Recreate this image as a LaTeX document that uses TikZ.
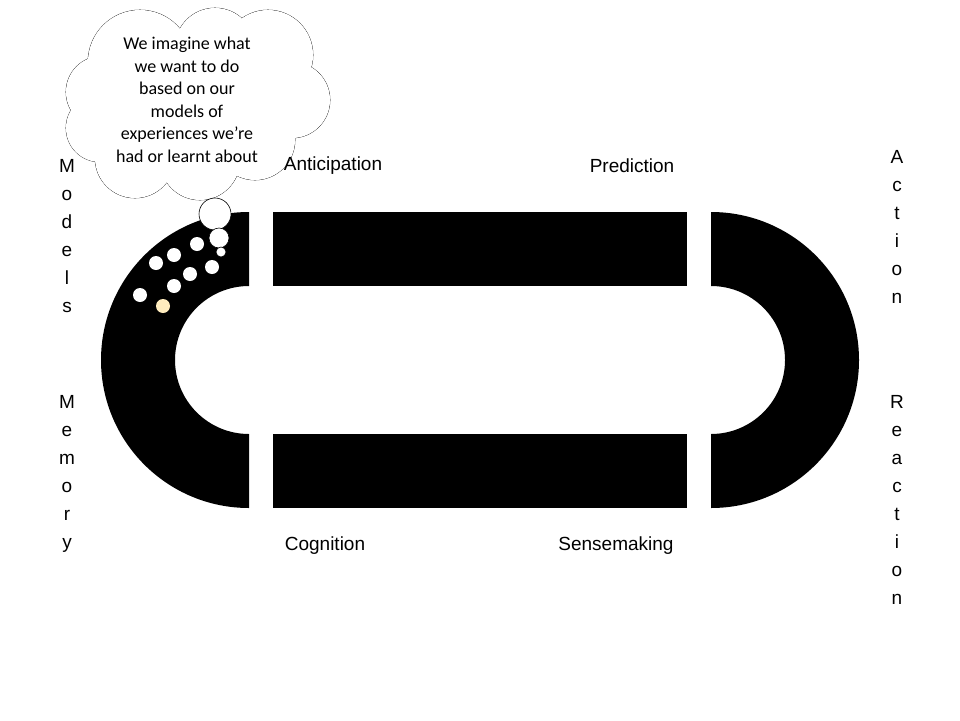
\documentclass[tikz,border=0pt]{standalone}
\usepackage{fontspec}
\setmainfont{Liberation Sans}
\newfontfamily\cloudfont{Carlito}
\begin{document}
\begin{tikzpicture}[x=1pt,y=-1pt,
  lbl/.style={font=\fontsize{19}{22}\selectfont},
  vlbl/.style={font=\fontsize{19}{28}\selectfont,align=center,anchor=north},
  bub/.style={draw=black,fill=white,line width=0.6pt}]
\useasboundingbox (0,0) rectangle (960,720);
% bars
\fill (249,212) arc[start angle=270,end angle=90,radius=148] -- (249,434) arc[start angle=90,end angle=270,radius=74] -- cycle;
\fill (711,212) arc[start angle=270,end angle=450,radius=148] -- (711,434) arc[start angle=90,end angle=-90,radius=74] -- cycle;
\fill (273,212) rectangle (687,286);
\fill (273,434) rectangle (687,508);
% dots
\foreach \p in {(156,263),(174,255),(197,244),(212,267),(190,274),(174,286),(140,295)}
  \fill[white] \p circle[radius=7];
\fill[fill={rgb,255:red,255;green,236;blue,190}] (163,306) circle[radius=7];
% cloud
\def\lobes{(140,62) circle[radius=52] (215,48) circle[radius=40] (268,55) circle[radius=45] (292,100) circle[radius=38] (255,140) circle[radius=40] (200,160) circle[radius=40] (135,158) circle[radius=40] (100,128) circle[radius=34] (102,92) circle[radius=36]}
\draw[line width=0.6pt] \lobes;
\fill[white] \lobes;
\fill[white] (197,105) ellipse[x radius=100,y radius=65];
\node[font=\cloudfont\fontsize{18}{22.5}\selectfont,align=center] (ct) at (187,100)
 {We imagine what\\we want to do\\based on our\\models of\\experiences we’re\\had or learnt about};
\node[bub,circle,minimum size=32pt,inner sep=0] (b1) at (215,214) {};
\node[bub,circle,minimum size=20pt,inner sep=0] (b2) at (219,238) {};
\node[bub,circle,minimum size=10pt,inner sep=0] (b3) at (221,252) {};
% labels
\node[lbl] (ant) at (333,166) {Anticipation};
\node[lbl] (pre) at (632,166) {Prediction};
\node[lbl] (cog) at (325,546) {Cognition};
\node[lbl] (sen) at (616,546) {Sensemaking};
\node[vlbl] (mod) at (67,156) {M\\o\\d\\e\\l\\s};
\node[vlbl] (mem) at (67,392) {M\\e\\m\\o\\r\\y};
\node[vlbl] (act) at (897,147) {A\\c\\t\\i\\o\\n};
\node[vlbl] (rea) at (897,392) {R\\e\\a\\c\\t\\i\\o\\n};
\end{tikzpicture}
\end{document}
